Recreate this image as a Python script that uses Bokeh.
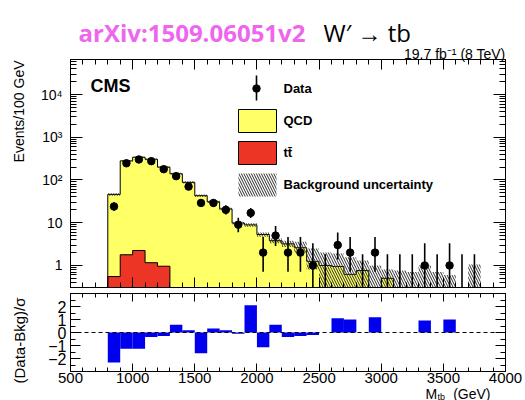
from bokeh.plotting import figure
from bokeh.models import FixedTicker, LogAxis, LinearAxis, Label, Span
from bokeh.layouts import column
from bokeh.embed import file_html
from bokeh.resources import INLINE

# ---- binned mass spectrum (100 GeV bins) ----
bin_lo = [800, 900, 1000, 1100, 1200, 1300, 1400, 1500, 1600, 1700,
          1800, 1900, 2000, 2100, 2200, 2300, 2400, 2500, 2600, 2700,
          2800, 2900, 3000, 3100, 3200, 3300, 3400, 3500, 3600, 3700]
bin_hi = [900, 1000, 1100, 1200, 1300, 1400, 1500, 1600, 1700, 1800,
          1900, 2000, 2100, 2200, 2300, 2400, 2500, 2600, 2700, 2800,
          2900, 3000, 3100, 3200, 3300, 3400, 3500, 3600, 3700, 3800]

qcd = [45.4, 278, 338, 304, 199, 140, 88, 43, 31, 21,
       9.8, 8.9, 5.3, 3.8, 3.2, 2.6, 1.25, 1.0, 0.95, 0.62,
       0.76, 0, 0.5, 0, 0, 0, 0, 0, 0, 0]
ttbar = [0.55, 1.78, 2.24, 1.16, 0.96, 0, 0, 0, 0, 0,
         0, 0, 0, 0, 0, 0, 0, 0, 0, 0,
         0, 0, 0, 0, 0, 0, 0, 0, 0, 0]

unc_lo = [43, 268, 325, 290, 190, 132, 83, 40, 29, 19.5,
          9.0, 8.1, 4.7, 3.3, 2.7, 2.0, 0.8, 0.1, 0.1, 0.1,
          0.1, 0.1, 0.1, 0.1, 0.1, 0.1, 0.1, 0.1, 0, 0.1]
unc_hi = [49, 292, 355, 320, 210, 148, 93, 46, 33, 22.5,
          10.6, 9.7, 5.9, 4.3, 3.8, 3.6, 2.5, 2.0, 1.9, 1.56,
          1.3, 1.0, 0.8, 0.76, 0.7, 1.0, 0.7, 0.6, 0, 1.05]

data = [24, 246, 302, 276, 179, 123, 70, 29, 29, 20,
        9, 17, 2, 5, 2, 2, 1, 0, 3, 2,
        0, 2, 0, 0, 0, 1, 0, 1, 0, 0]
data_lo = [19.1, 230.6, 285.0, 259.7, 165.7, 112.4, 61.7, 23.7, 23.7, 15.6,
           6.0, 12.9, 0.71, 2.84, 0.71, 0.71, 0.17, 0, 1.37, 0.71,
           0, 0.71, 0, 0, 0, 0.17, 0, 0.17, 0, 0]
data_hi = [30.0, 262.5, 320.0, 293.1, 193.4, 134.1, 79.4, 35.4, 35.4, 25.5,
           13.0, 22.2, 4.64, 8.38, 4.64, 4.64, 3.30, 1.84, 5.92, 4.64,
           1.84, 4.64, 1.84, 1.84, 1.84, 3.30, 1.84, 3.30, 1.84, 1.84]

pull = [-2.3, -1.25, -1.25, -0.34, -0.26, 0.6, 0.18, -1.6, 0.3, 0.18,
        -0.1, 2.1, -1.13, 0.6, -0.34, -0.26, -0.2, 0, 1.1, 1.0,
        0, 1.18, 0, 0, 0, 0.92, 0, 1.0, 0, 0]

x_ticks = [500, 1000, 1500, 2000, 2500, 3000, 3500, 4000]
x_tick_text = ["500", "1000", "1500", "2000", "2500", "3000", "3500", "4000"]
y_ticks = [1, 10, 100, 1000, 10000]
y_tick_text = ["1", "10", "10²", "10³", "10⁴"]
pull_ticks = [-2, -1, 0, 1, 2]
pull_tick_text = ["−2", "−1", "0", "1", "2"]

legend_text = ["Data", "QCD", "tt̄", "Background uncertainty"]

YELLOW = "#ffff66"
RED = "#ec3524"
BLUE = "#0000ee"
HATCH = "#2a2a2a"
FONT = "Liberation Sans"
FLOOR = 1e-3

centers = [(a + b) / 2 for a, b in zip(bin_lo, bin_hi)]
total = [q + t for q, t in zip(qcd, ttbar)]

x_minor = list(range(500, 4001, 100))
y_minor = [m * 10 ** d for d in range(-1, 5) for m in range(2, 10)]
pull_minor = [-2.5, -1.5, -0.5, 0.5, 1.5, 2.5]


def style_axis(ax, ticker, ticks, texts=None, tick_len=10, size="14px", standoff=5):
    ax.ticker = ticker
    ax.axis_line_color = "black"
    ax.major_tick_line_color = "black"
    ax.minor_tick_line_color = "black"
    ax.major_tick_in = tick_len
    ax.major_tick_out = 0
    ax.minor_tick_in = tick_len // 2
    ax.minor_tick_out = 0
    ax.axis_label = None
    if texts is not None:
        ax.major_label_standoff = standoff
        ax.major_label_text_font = FONT
        ax.major_label_text_font_size = size
        ax.major_label_text_color = "black"
        ax.major_label_overrides = {v: t for v, t in zip(ticks, texts)}
    else:
        ax.major_label_standoff = 0
        ax.major_label_text_font_size = "1px"
        ax.major_label_text_alpha = 0
        ax.major_label_overrides = {v: " " for v in ticks}


def new_fig(**kw):
    f = figure(output_backend="svg", toolbar_location=None,
               min_border_left=70, min_border_right=20, **kw)
    f.xgrid.visible = False
    f.ygrid.visible = False
    f.outline_line_color = "black"
    f.background_fill_color = "white"
    f.border_fill_color = "white"
    return f


# ---------------- upper panel ----------------
top = new_fig(width=525, height=290, y_axis_type="log",
              x_range=(500, 4000), y_range=(0.305, 6.6e4),
              min_border_top=59, min_border_bottom=3)

style_axis(top.yaxis[0], FixedTicker(ticks=y_ticks, minor_ticks=y_minor), y_ticks, y_tick_text,
           tick_len=12, size="14px", standoff=8)
style_axis(top.xaxis[0], FixedTicker(ticks=x_ticks, minor_ticks=x_minor), x_ticks)
right_ax = LogAxis()
style_axis(right_ax, FixedTicker(ticks=y_ticks, minor_ticks=y_minor), y_ticks, tick_len=12)
top.add_layout(right_ax, "right")
above_ax = LinearAxis()
style_axis(above_ax, FixedTicker(ticks=x_ticks, minor_ticks=x_minor), x_ticks)
top.add_layout(above_ax, "above")

# stacked backgrounds
step_x = [bin_lo[0]] + bin_lo + [bin_hi[-1]]
total_y = [FLOOR] + [v if v > 0 else FLOOR for v in total] + [FLOOR]
ttbar_y = [FLOOR] + [v if v > 0 else FLOOR for v in ttbar] + [FLOOR]
top.varea_step(x=step_x, y1=[FLOOR] * len(step_x), y2=total_y, step_mode="after",
               fill_color=YELLOW)
top.varea_step(x=step_x, y1=[FLOOR] * len(step_x), y2=ttbar_y, step_mode="after",
               fill_color=RED)
top.step(x=step_x, y=ttbar_y, mode="after", line_color="black", line_width=1)
top.step(x=step_x, y=total_y, mode="after", line_color="black", line_width=1)

# background uncertainty band
u_idx = [i for i, v in enumerate(unc_hi) if v > 0]
top.quad(left=[bin_lo[i] for i in u_idx], right=[bin_hi[i] for i in u_idx],
         bottom=[unc_lo[i] if unc_lo[i] > 0 else FLOOR for i in u_idx],
         top=[unc_hi[i] for i in u_idx],
         fill_alpha=0, line_color=None,
         hatch_pattern="\\", hatch_color=HATCH, hatch_scale=5,
         hatch_weight=1, hatch_alpha=1)

# observed data
top.segment(x0=centers, x1=centers,
            y0=[v if v > 0 else FLOOR for v in data_lo], y1=data_hi,
            line_color="black", line_width=1.6)
d_idx = [i for i, v in enumerate(data) if v > 0]
top.scatter(x=[centers[i] for i in d_idx], y=[data[i] for i in d_idx],
            size=7.5, fill_color="black", line_color="black")

# ---------------- lower panel ----------------
bot = new_fig(width=525, height=110, x_range=top.x_range, y_range=(-3, 3),
              min_border_top=3, min_border_bottom=29)

style_axis(bot.xaxis[0], FixedTicker(ticks=x_ticks, minor_ticks=x_minor), x_ticks, x_tick_text,
           tick_len=8, size="15px", standoff=1)
style_axis(bot.yaxis[0], FixedTicker(ticks=pull_ticks, minor_ticks=pull_minor), pull_ticks,
           pull_tick_text, tick_len=10, size="16px", standoff=4)
r2 = LinearAxis()
style_axis(r2, FixedTicker(ticks=pull_ticks, minor_ticks=pull_minor), pull_ticks)
bot.add_layout(r2, "right")
a2 = LinearAxis()
style_axis(a2, FixedTicker(ticks=x_ticks, minor_ticks=x_minor), x_ticks, tick_len=8)
bot.add_layout(a2, "above")

p_idx = [i for i, v in enumerate(pull) if v != 0]
bot.quad(left=[bin_lo[i] for i in p_idx], right=[bin_hi[i] for i in p_idx],
         bottom=0, top=[pull[i] for i in p_idx], fill_color=BLUE, line_color=None)
bot.add_layout(Span(location=0, dimension="width", line_color="black",
                    line_width=1.2, line_dash="4 3"))

# ---------------- transparent page layer for titles and legend ----------------
page = figure(width=525, height=400, x_range=(0, 525), y_range=(400, 0),
              output_backend="svg", toolbar_location=None,
              x_axis_location=None, y_axis_location=None,
              min_border=0, margin=(-400, 0, 0, 0))
page.xgrid.visible = False
page.ygrid.visible = False
page.outline_line_color = None
page.background_fill_alpha = 0
page.border_fill_alpha = 0


def lab(x, y, text, size, style="normal", align="left", base="alphabetic",
        color="black", font=FONT, angle=0.0):
    page.add_layout(Label(x=x, y=y, text=text,
                          text_font=font, text_font_size=size, text_font_style=style,
                          text_align=align, text_baseline=base, text_color=color,
                          angle=angle))


lab(78, 32, "arXiv:1509.06051v2", "24px", "bold", color="#ee66ee", font="Open Sans")
lab(323, 32, "W′ → tb", "24px", font="Open Sans")
lab(505, 53, "19.7 fb⁻¹ (8 TeV)", "14px", align="right")
lab(90, 85, "CMS", "18px", "bold")
lab(18, 60, "Events/100 GeV", "14px", align="right", base="middle", angle=1.5708)
lab(19, 340, "(Data-Bkg)/σ", "15px", align="center", base="middle", angle=1.5708)
lab(425, 393.5, "M", "14px")
lab(437, 396, "tb", "9px")
lab(490, 393.5, "(GeV)", "14px", align="right")

# legend entries
page.segment(x0=[256], x1=[256], y0=[75], y1=[100], line_color="black", line_width=1.6)
page.scatter(x=[256], y=[88], size=7.5, fill_color="black", line_color="black")
page.quad(left=[238], right=[276], top=[109], bottom=[132], fill_color=YELLOW, line_color="black")
page.quad(left=[238], right=[276], top=[141], bottom=[164], fill_color=RED, line_color="black")
page.quad(left=[238], right=[276], top=[173], bottom=[196], fill_alpha=0, line_color=None,
          hatch_pattern="\\", hatch_color=HATCH, hatch_scale=5, hatch_weight=1, hatch_alpha=1)
for txt, yy in zip(legend_text, [88, 120, 152, 184]):
    lab(283, yy, txt, "13px", "bold", base="middle")

panels = column(top, bot, spacing=0)
layout = column(panels, page, spacing=0)
open("out.html", "w").write(file_html(layout, INLINE))
